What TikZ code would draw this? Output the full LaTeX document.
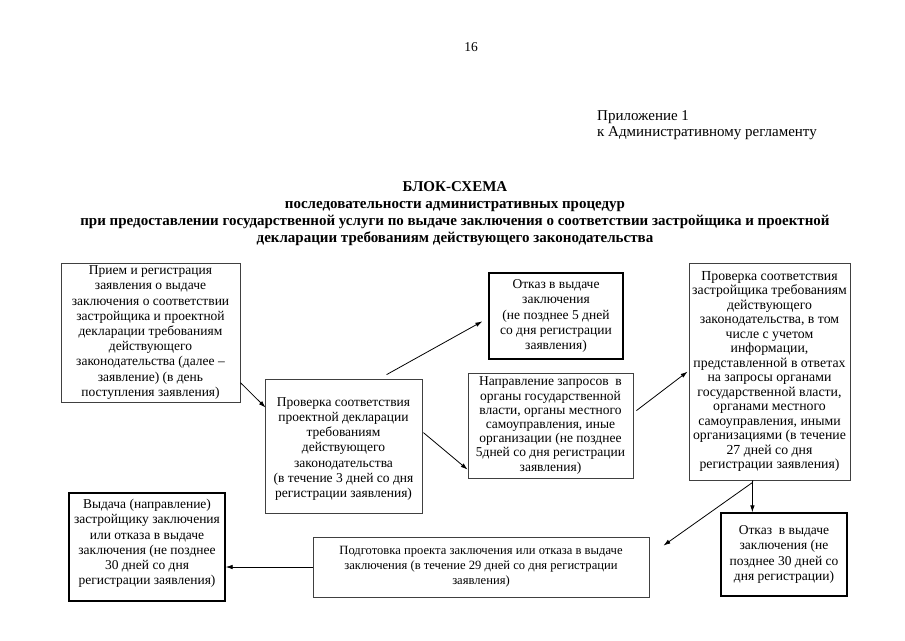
\documentclass[tikz,border=0pt]{standalone}
\usepackage{fontspec}
\setmainfont{Liberation Serif}
\usetikzlibrary{arrows.meta,calc}
\begin{document}
\begin{tikzpicture}[x=1pt,y=-1pt,
  box/.style={draw=black!75,line width=0.8pt,inner sep=1pt,align=center,
    font=\fontsize{13.5}{15.2}\selectfont},
  boxb/.style={box,draw=black,line width=1.3pt},
  arr/.style={line width=0.8pt,-{Latex[length=7pt,width=4.5pt]}},
  plain/.style={inner sep=0pt,font=\fontsize{13.5}{16}\selectfont}]
\useasboundingbox (0,0) rectangle (905,640);
\fill[white] (0,0) rectangle (905,640);
\node[plain] (pg) at (471,47) {16};
\node[plain,anchor=west,align=left,font=\fontsize{15}{16}\selectfont] (app) at (597,125) {Приложение 1\\к Административному регламенту};
\node[inner sep=0pt,align=center,font=\fontsize{15}{17}\selectfont\bfseries] (title) at (455,214)
  {БЛОК-СХЕМА\\последовательности административных процедур\\при предоставлении государственной услуги по выдаче заключения о соответствии застройщика и проектной\\декларации требованиям действующего законодательства};
\node[box,minimum width=179pt,minimum height=139pt] (b1) at (150.5,332.5)
  {Прием и регистрация\\заявления о выдаче\\заключения о соответствии\\застройщика и проектной\\декларации требованиям\\действующего\\законодательства (далее –\\заявление) (в день\\поступления заявления)};
\node[box,minimum width=157pt,minimum height=134pt] (b2) at (343.5,446)
  {\rule{0pt}{14.5pt}Проверка соответствия\\проектной декларации\\требованиям\\действующего\\законодательства\\(в течение 3 дней со дня\\регистрации заявления)};
\node[boxb,minimum width=134pt,minimum height=86pt] (b3) at (556,316)
  {Отказ в выдаче\\заключения\\(не позднее 5 дней\\со дня регистрации\\заявления)};
\node[box,minimum width=165pt,minimum height=105pt,font=\fontsize{13.5}{14.2}\selectfont] (b4) at (550.5,425.5)
  {Направление запросов\ \ в\\органы государственной\\власти, органы местного\\самоуправления, иные\\организации (не позднее\\5дней со дня регистрации\\заявления)};
\node[box,minimum width=161pt,minimum height=217pt,font=\fontsize{13.8}{14.5}\selectfont] (b5) at (769.5,371.5)
  {Проверка соответствия\\застройщика требованиям\\действующего\\законодательства, в том\\числе с учетом\\информации,\\представленной в ответах\\на запросы органами\\государственной власти,\\органами местного\\самоуправления, иными\\организациями (в течение\\27 дней со дня\\регистрации заявления)};
\node[boxb,minimum width=156pt,minimum height=108pt] (b6) at (147,547)
  {Выдача (направление)\\застройщику заключения\\или отказа в выдаче\\заключения (не позднее\\30 дней со дня\\регистрации заявления)\rule[-10pt]{0pt}{1pt}};
\node[box,minimum width=336pt,minimum height=60pt,font=\fontsize{12.6}{15.2}\selectfont] (b7) at (481,567)
  {Подготовка проекта заключения или отказа в выдаче\\заключения (в течение 29 дней со дня регистрации\\заявления)};
\node[boxb,minimum width=126pt,minimum height=83pt] (b8) at (784,554.5)
  {Отказ\ \ в выдаче\\заключения (не\\позднее 30 дней со\\дня регистрации)};
\draw[arr] ([shift={(0,120)}]b1.north east) -- ([shift={(1,29)}]b2.north west);
\draw[arr] ([shift={(122,-4)}]b2.north west) -- ([shift={(-6,49)}]b3.north west);
\draw[arr] ([shift={(1,54)}]b2.north east) -- ([shift={(0,97)}]b4.north west);
\draw[arr] ([shift={(3,38)}]b4.north east) -- ([shift={(-1,109)}]b5.north west);
\draw[arr] ([shift={(64,0)}]b5.south west) -- ([shift={(32,0)}]b8.north west);
\draw[arr] ([shift={(64,2)}]b5.south west) -- ([shift={(14,9)}]b7.north east);
\draw[arr] (b7.west) -- (b7.west -| b6.east);
\end{tikzpicture}
\end{document}
